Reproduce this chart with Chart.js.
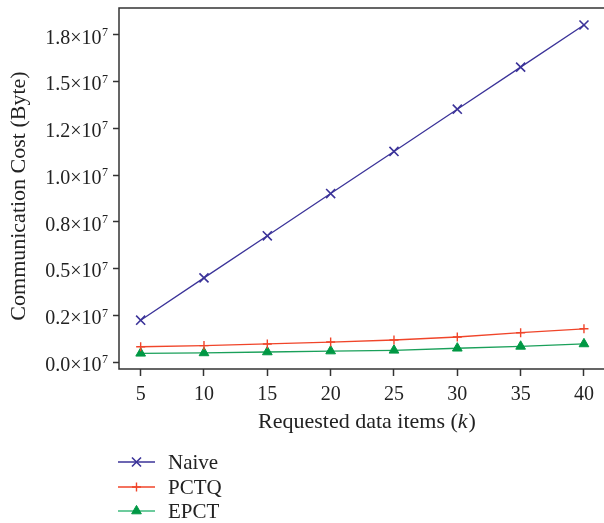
<!DOCTYPE html>
<html>
<head>
<meta charset="utf-8">
<script src="https://cdn.jsdelivr.net/npm/chart.js@4"></script>
<style>
  html, body { margin: 0; padding: 0; background: #fff; }
  #wrap { width: 604px; height: 523px; }
</style>
</head>
<body>
<div id="wrap"><canvas id="myChart" width="604" height="523"></canvas></div>
<script>
// data
var items = [5, 10, 15, 20, 25, 30, 35, 40];
var naive = [2.25e6, 4.51e6, 6.76e6, 9.02e6, 11.27e6, 13.53e6, 15.78e6, 18.03e6];
var pctq = [0.83e6, 0.89e6, 0.98e6, 1.08e6, 1.19e6, 1.35e6, 1.58e6, 1.79e6];
var epct = [0.48e6, 0.50e6, 0.55e6, 0.60e6, 0.64e6, 0.75e6, 0.85e6, 0.98e6];
var yTickValues = [0, 2.5e6, 5e6, 7.5e6, 1e7, 1.25e7, 1.5e7, 1.75e7];
var yTickLabels = ['0.0', '0.2', '0.5', '0.8', '1.0', '1.2', '1.5', '1.8'];
var xTitle = ['Requested data items (', 'k', ')'];
var yTitle = 'Communication Cost (Byte)';

var serif = '"Liberation Serif", "DejaVu Serif", serif';
var axisColor = '#333333';
var textColor = '#222222';

function pts(vals) {
  return vals.map(function (v, i) { return {x: items[i], y: v}; });
}

// y tick labels "a.b×10^7" with a real superscript, plus both axis titles
var axisText = {
  id: 'axisText',
  afterDraw: function (chart) {
    var ctx = chart.ctx, ys = chart.scales.y;
    ctx.save();
    ctx.fillStyle = textColor;
    ctx.textBaseline = 'alphabetic';
    yTickValues.forEach(function (v, i) {
      var p = ys.getPixelForValue(v);
      ctx.font = '12px ' + serif;
      ctx.textAlign = 'right';
      ctx.fillText('7', 108, p + 1);
      var w = ctx.measureText('7').width;
      ctx.font = '20px ' + serif;
      ctx.fillText(yTickLabels[i] + '×10', 108 - w - 0.5, p + 8.6);
    });

    // x title, italic k
    ctx.font = '22px ' + serif;
    var w0 = ctx.measureText(xTitle[0]).width;
    var w2 = ctx.measureText(xTitle[2]).width;
    ctx.font = 'italic 22px ' + serif;
    var w1 = ctx.measureText(xTitle[1]).width + 1;
    var x = 367 - (w0 + w1 + w2) / 2;
    ctx.textAlign = 'left';
    ctx.font = '22px ' + serif;
    ctx.fillText(xTitle[0], x, 428);
    ctx.font = 'italic 22px ' + serif;
    ctx.fillText(xTitle[1], x + w0, 428);
    ctx.font = '22px ' + serif;
    ctx.fillText(xTitle[2], x + w0 + w1, 428);

    // y title, rotated
    ctx.translate(25, 196);
    ctx.rotate(-Math.PI / 2);
    ctx.textAlign = 'center';
    ctx.fillText(yTitle, 0, 0);
    ctx.restore();
  }
};

// legend below the plot: line + marker + label
var bottomLegend = {
  id: 'bottomLegend',
  afterDraw: function (chart) {
    var ctx = chart.ctx;
    var rows = [462, 487, 511];
    chart.data.datasets.forEach(function (ds, i) {
      var y = rows[i];
      ctx.save();
      ctx.strokeStyle = ds.legendLine || ds.borderColor;
      ctx.lineWidth = 1.4;
      ctx.beginPath();
      ctx.moveTo(118, y);
      ctx.lineTo(155, y);
      ctx.stroke();
      ctx.strokeStyle = ds.pointBorderColor;
      ctx.fillStyle = ds.pointBackgroundColor;
      ctx.lineWidth = ds.pointBorderWidth;
      Chart.helpers.drawPoint(ctx, {pointStyle: ds.pointStyle, rotation: 0, radius: ds.pointRadius, borderWidth: ds.pointBorderWidth}, 136.5, y);
      ctx.fillStyle = textColor;
      ctx.font = '21px ' + serif;
      ctx.textBaseline = 'middle';
      ctx.textAlign = 'left';
      ctx.fillText(ds.label, 168, y + 1);
      ctx.restore();
    });
  }
};

// frame: left, top and bottom lines of the plot box (runs to the canvas edge)
var frame = {
  id: 'frame',
  afterDraw: function (chart) {
    var a = chart.chartArea, ctx = chart.ctx;
    ctx.save();
    ctx.strokeStyle = axisColor;
    ctx.lineWidth = 1.5;
    ctx.beginPath();
    ctx.moveTo(604, a.top);
    ctx.lineTo(a.left, a.top);
    ctx.lineTo(a.left, a.bottom);
    ctx.lineTo(604, a.bottom);
    ctx.stroke();
    ctx.restore();
  }
};

function noPad(s) {
  s.paddingTop = 0; s.paddingBottom = 0; s.paddingLeft = 0; s.paddingRight = 0;
}

var ctx = document.getElementById('myChart').getContext('2d');
var myChart = new Chart(ctx, {
  type: 'line',
  data: {
    datasets: [{
      label: 'Naive',
      data: pts(naive),
      borderColor: '#3b3399',
      borderWidth: 1.3,
      pointStyle: 'crossRot',
      pointRadius: 6.4,
      pointBorderWidth: 1.6,
      pointBorderColor: '#3b3399',
      pointBackgroundColor: '#3b3399'
    }, {
      label: 'PCTQ',
      data: pts(pctq),
      borderColor: '#f0452a',
      borderWidth: 1.3,
      pointStyle: 'cross',
      pointRadius: 4.5,
      pointBorderWidth: 1.4,
      pointBorderColor: '#f0452a',
      pointBackgroundColor: '#f0452a'
    }, {
      label: 'EPCT',
      data: pts(epct),
      borderColor: '#1aa05a',
      legendLine: '#3dba7c',
      borderWidth: 1.3,
      pointStyle: 'triangle',
      pointRadius: 5.6,
      pointBorderWidth: 1,
      pointBorderColor: '#009844',
      pointBackgroundColor: '#009844'
    }]
  },
  options: {
    responsive: false,
    animation: false,
    layout: { padding: { top: 7, right: 0, left: 0, bottom: 88 } },
    plugins: {
      legend: { display: false },
      tooltip: { enabled: false }
    },
    scales: {
      x: {
        type: 'linear',
        min: 3.29,
        max: 40.95,
        afterBuildTicks: function (s) {
          s.ticks = items.map(function (v) { return {value: v}; });
        },
        afterFit: function (s) { s.height = 66; noPad(s); },
        border: { display: false },
        grid: { drawOnChartArea: false, tickLength: 7, color: axisColor, tickWidth: 1.5 },
        ticks: {
          color: textColor,
          padding: 7,
          maxRotation: 0,
          font: { family: serif, size: 20 },
          callback: function (v) { return String(v); }
        }
      },
      y: {
        min: -0.36e6,
        max: 18.94e6,
        afterBuildTicks: function (s) {
          s.ticks = yTickValues.map(function (v) { return {value: v}; });
        },
        afterFit: function (s) { s.width = 119; noPad(s); },
        border: { display: false },
        grid: { drawOnChartArea: false, tickLength: 6, color: axisColor, tickWidth: 1.5 },
        ticks: { display: false }
      }
    }
  },
  plugins: [frame, axisText, bottomLegend]
});
</script>
</body>
</html>
